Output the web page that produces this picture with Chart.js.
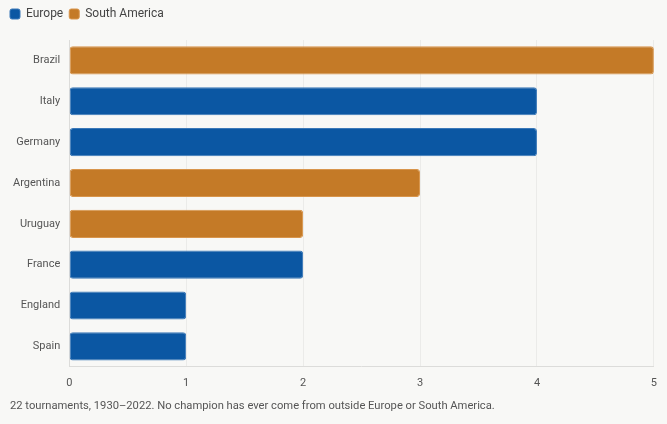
<!DOCTYPE html>
<html>
<head>
<meta charset="utf-8">
<script src="https://cdn.jsdelivr.net/npm/chart.js@4"></script>
<style>
  html, body { margin: 0; padding: 0; background: #f8f8f6; }
  #wrap { position: relative; width: 667px; height: 424px; }
  #nota { position: absolute; left: 10px; top: 399px; font-family: Roboto, sans-serif; font-size: 11.2px; color: #555; }
</style>
</head>
<body>
<div id="wrap">
  <canvas id="grafica"></canvas>
  <div id="nota">22 tournaments, 1930–2022. No champion has ever come from outside Europe or South America.</div>
</div>
<script>
const PAISES = ['Brazil', 'Italy', 'Germany', 'Argentina', 'Uruguay', 'France', 'England', 'Spain'];
const TITULOS = [5, 4, 4, 3, 2, 2, 1, 1];
const REGION = ['SA', 'EU', 'EU', 'SA', 'SA', 'EU', 'EU', 'EU'];
const TICKS_X = [0, 1, 2, 3, 4, 5];

const AZUL = '#0b57a3';
const NARANJA = '#c47a27';

const europa = TITULOS.map((v, i) => REGION[i] === 'EU' ? v : null);
const sudamerica = TITULOS.map((v, i) => REGION[i] === 'SA' ? v : null);

// espacio extra debajo de la leyenda
const margenLeyenda = {
    id: 'margenLeyenda',
    beforeInit(chart) {
        const fit = chart.legend.fit;
        chart.legend.fit = function () {
            fit.bind(chart.legend)();
            this.height += 10;
        };
    }
};

const ctx = document.getElementById('grafica').getContext('2d');
const myChart = new Chart(ctx, {
    type: 'bar',
    data: {
        labels: PAISES,
        datasets: [{
            label: 'Europe',
            data: europa,
            backgroundColor: AZUL,
            borderColor: '#3a78b8',
            borderWidth: 1,
            borderRadius: 3,
            borderSkipped: false
        }, {
            label: 'South America',
            data: sudamerica,
            backgroundColor: NARANJA,
            borderColor: '#d8954c',
            borderWidth: 1,
            borderRadius: 3,
            borderSkipped: false
        }]
    },
    plugins: [margenLeyenda],
    options: {
        indexAxis: 'y',
        responsive: true,
        maintainAspectRatio: false,
        animation: false,
        categoryPercentage: 1,
        barPercentage: 0.69,
        layout: { padding: { left: 4, right: 12, top: 2, bottom: 24 } },
        scales: {
            x: {
                stacked: true,
                min: 0,
                max: 5,
                afterBuildTicks: axis => { axis.ticks = TICKS_X.map(v => ({ value: v })); },
                grid: { color: '#ebebe9', drawTicks: false },
                border: { color: '#dcdcda' },
                ticks: { color: '#555', padding: 10, font: { family: 'Roboto', size: 11 } }
            },
            y: {
                stacked: true,
                grid: { display: false, drawTicks: false },
                border: { color: '#dcdcda' },
                ticks: { color: '#555', padding: 9, font: { family: 'Roboto', size: 11 } }
            }
        },
        plugins: {
            legend: {
                position: 'top',
                align: 'start',
                labels: {
                    boxWidth: 10,
                    boxHeight: 10,
                    useBorderRadius: true,
                    borderRadius: 2,
                    color: '#444',
                    padding: 6,
                    font: { family: 'Roboto', size: 12 }
                }
            },
            tooltip: { enabled: false }
        }
    }
});
</script>
</body>
</html>
